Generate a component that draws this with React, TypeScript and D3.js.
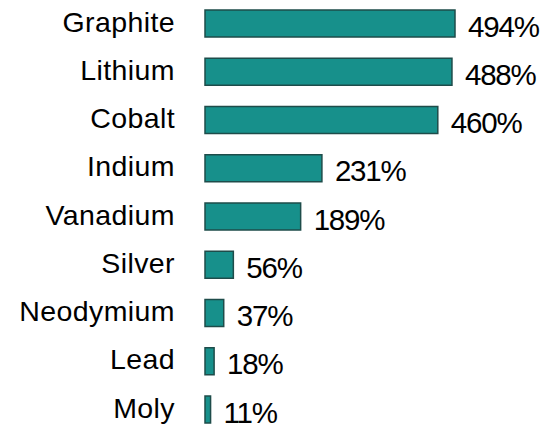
import React from "react";
import * as d3 from "d3";

const categories = ["Graphite", "Lithium", "Cobalt", "Indium", "Vanadium", "Silver", "Neodymium", "Lead", "Moly"];
const values = [494, 488, 460, 231, 189, 56, 37, 18, 11];

const W = 549;
const H = 427;

export default function App() {
  const x = d3.scaleLinear().domain([0, 494]).range([205, 455]);
  const step = 48.25;
  const bw = 27;
  const y = d3.scaleBand().domain(categories).range([10 - (step - bw) / 2, 10 - (step - bw) / 2 + step * 9]).paddingInner((step - bw) / step).paddingOuter((step - bw) / step / 2);
  const font = "'Liberation Sans', Arial, sans-serif";
  return (
    <svg width={W} height={H} style={{ position: "absolute", left: 0, top: 0 }}>
      {categories.map((c, i) => {
        const yy = y(c)!;
        const cy = yy + y.bandwidth() / 2;
        return (
          <g key={c}>
            <rect x={x(0)} y={yy} width={x(values[i]) - x(0)} height={y.bandwidth()} fill="#17908b" stroke="#1e4c4a" strokeWidth={1.5} />
            <text x={175} y={cy + 8} textAnchor="end" fontFamily={font} fontSize={28.5} letterSpacing={0.4} fill="#000">{c}</text>
            <text x={x(values[i]) + 13} y={cy + 13} textAnchor="start" fontFamily={font} fontSize={29.5} letterSpacing={-1.2} fill="#000">{values[i]}%</text>
          </g>
        );
      })}
    </svg>
  );
}
